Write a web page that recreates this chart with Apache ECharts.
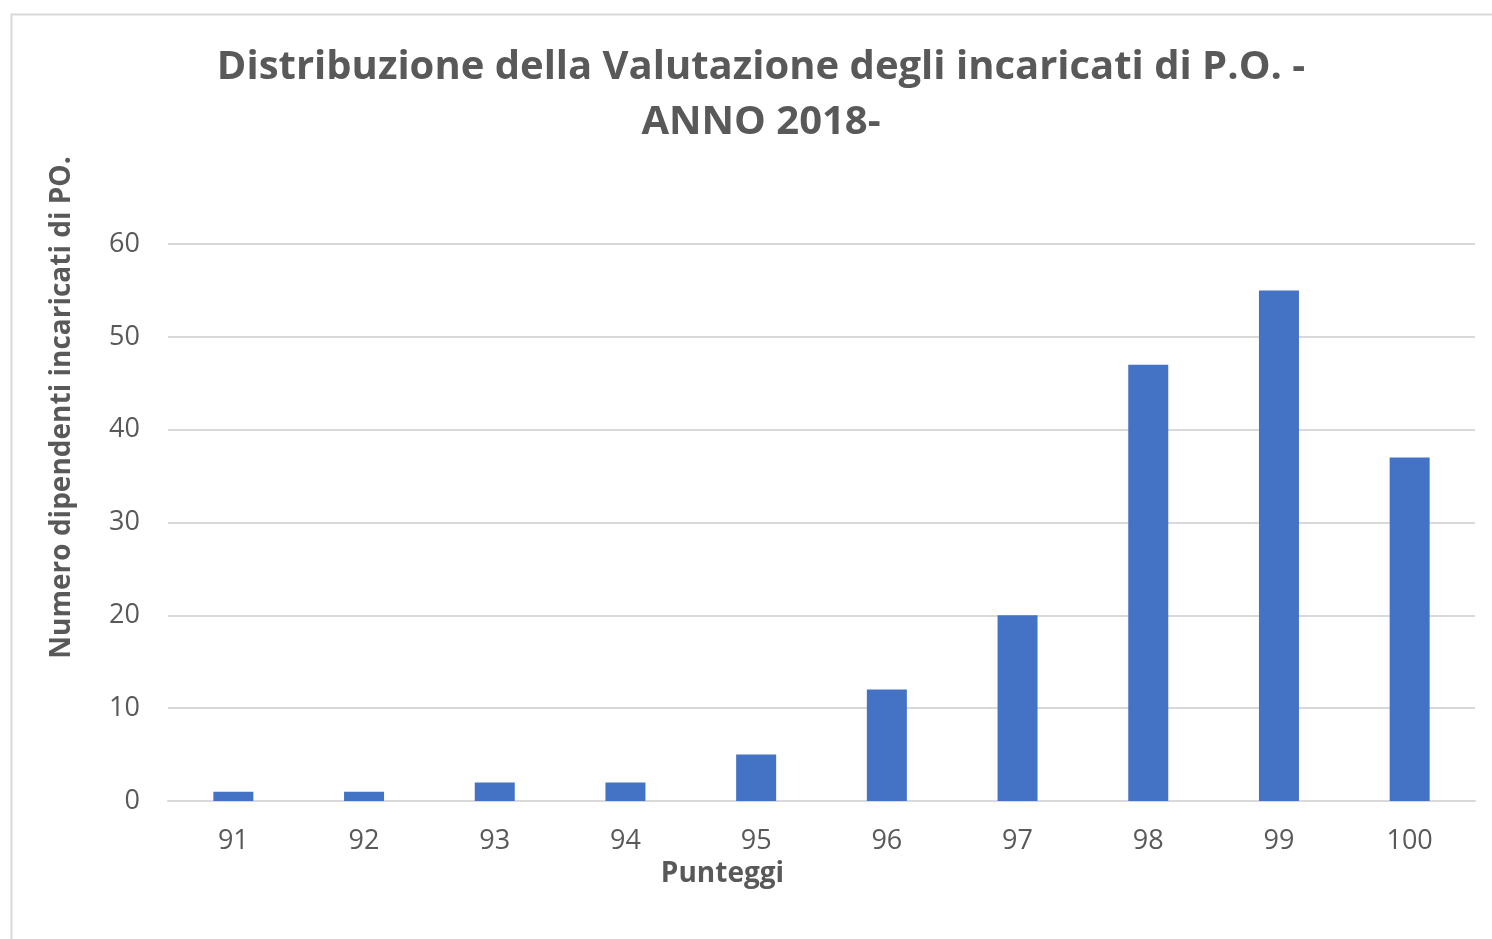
<!DOCTYPE html>
<html>
<head>
<meta charset="utf-8">
<title>Distribuzione della Valutazione</title>
<script src="https://cdn.jsdelivr.net/npm/echarts@6/dist/echarts.min.js"></script>
<style>
  html, body { margin: 0; padding: 0; background: #fff; }
  #chart { width: 1492px; height: 939px; }
</style>
</head>
<body>
<div id="chart"></div>
<script>
const categories = ['91', '92', '93', '94', '95', '96', '97', '98', '99', '100']
const counts = [1, 1, 2, 2, 5, 12, 20, 47, 55, 37]
const yTicks = { min: 0, max: 60, interval: 10 }

const titleText = 'Distribuzione della Valutazione degli incaricati di P.O. -\nANNO 2018-'
const xName = 'Punteggi'
const yName = 'Numero dipendenti incaricati di PO.'

const textColor = '#595959'
const font = '"Open Sans", "Noto Sans", sans-serif'

const chart = echarts.init(document.getElementById('chart'))

chart.setOption({
  backgroundColor: '#fff',
  animation: false,
  graphic: [{
    type: 'rect',
    left: 9,
    top: 12,
    shape: { width: 1600, height: 1100 },
    style: { fill: 'none', stroke: '#d9d9d9', lineWidth: 2 },
    silent: true
  }],
  title: {
    text: titleText,
    left: 756,
    textAlign: 'center',
    top: 35,
    textStyle: {
      color: textColor,
      fontFamily: font,
      fontWeight: 'bold',
      fontSize: 40,
      lineHeight: 55
    }
  },
  grid: {
    left: 168,
    right: 17,
    top: 244,
    bottom: 138
  },
  xAxis: {
    type: 'category',
    data: categories,
    name: xName,
    nameLocation: 'middle',
    nameGap: 59,
    nameTextStyle: {
      color: textColor,
      fontFamily: font,
      fontWeight: 'bold',
      fontSize: 28,
      padding: [0, 198, 0, 0]
    },
    axisLine: { show: true, lineStyle: { color: '#d9d9d9', width: 2 } },
    axisTick: { show: false },
    axisLabel: {
      color: textColor,
      fontFamily: font,
      fontSize: 27,
      margin: 27
    }
  },
  yAxis: {
    type: 'value',
    min: yTicks.min,
    max: yTicks.max,
    interval: yTicks.interval,
    name: yName,
    nameLocation: 'middle',
    nameGap: 92,
    nameRotate: 90,
    nameTextStyle: {
      color: textColor,
      fontFamily: font,
      fontWeight: 'bold',
      fontSize: 28,
      padding: [0, 0, 0, 230]
    },
    axisLine: { show: false },
    axisTick: { show: false },
    splitLine: { lineStyle: { color: '#d9d9d9', width: 2 } },
    axisLabel: {
      color: textColor,
      fontFamily: font,
      fontSize: 27,
      margin: 28
    }
  },
  series: [{
    type: 'bar',
    data: counts,
    barWidth: 40,
    itemStyle: { color: '#4472c4' }
  }]
})
</script>
</body>
</html>
